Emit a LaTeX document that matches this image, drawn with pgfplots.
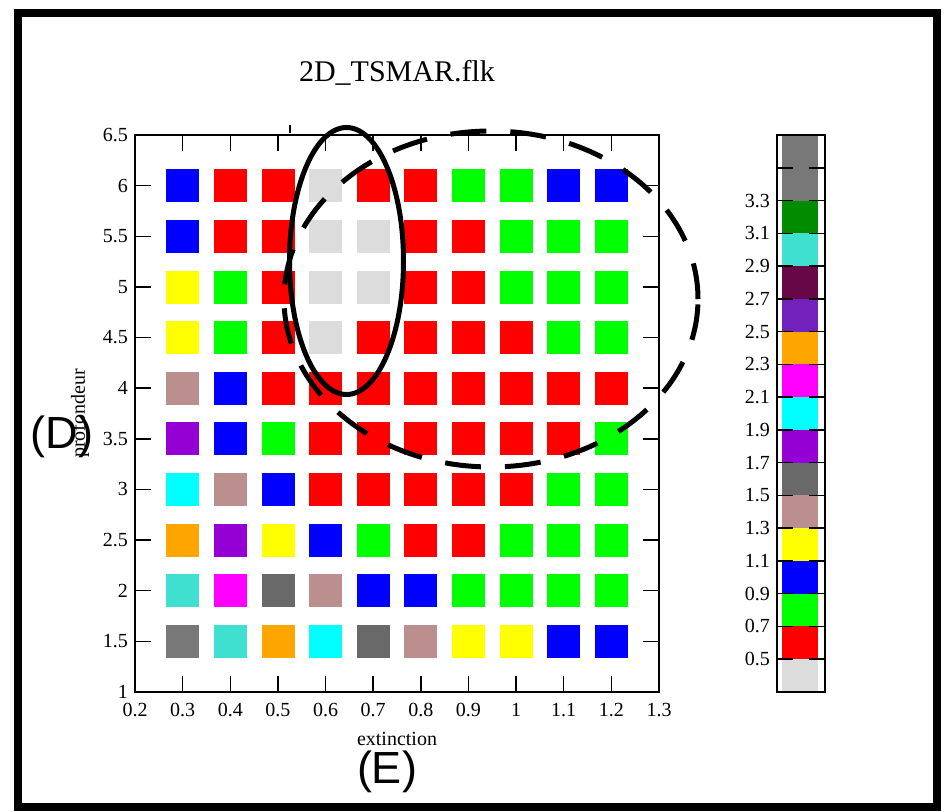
\documentclass[border=0pt]{standalone}
\usepackage{fontspec}
\setmainfont{Liberation Serif}
\newfontfamily\labelsans{Liberation Sans}
\usepackage{pgfplots}
\pgfplotsset{compat=1.18}
\usepackage{pgfplotstable}

% Grace-style palette
\definecolor{lgrey}{RGB}{220,220,220}
\definecolor{cred}{RGB}{255,0,0}
\definecolor{cgreen}{RGB}{0,255,0}
\definecolor{cblue}{RGB}{0,0,255}
\definecolor{cyellow}{RGB}{255,255,0}
\definecolor{cbrown}{RGB}{188,143,143}
\definecolor{dgrey}{RGB}{105,105,105}
\definecolor{cviolet}{RGB}{148,0,211}
\definecolor{ccyan}{RGB}{0,255,255}
\definecolor{cmagenta}{RGB}{255,0,255}
\definecolor{corange}{RGB}{255,165,0}
\definecolor{cindigo}{RGB}{114,33,188}
\definecolor{cmaroon}{RGB}{103,7,72}
\definecolor{cturq}{RGB}{64,224,208}
\definecolor{cgreenfour}{RGB}{0,139,0}
\definecolor{cgray}{RGB}{120,120,120}

% extinction, profondeur, class of the cell
\pgfplotstableread{
x   y   c
0.3 6   b
0.4 6   r
0.5 6   r
0.6 6   lg
0.7 6   r
0.8 6   r
0.9 6   g
1.0 6   g
1.1 6   b
1.2 6   b
0.3 5.5 b
0.4 5.5 r
0.5 5.5 r
0.6 5.5 lg
0.7 5.5 lg
0.8 5.5 r
0.9 5.5 r
1.0 5.5 g
1.1 5.5 g
1.2 5.5 g
0.3 5   y
0.4 5   g
0.5 5   r
0.6 5   lg
0.7 5   lg
0.8 5   r
0.9 5   r
1.0 5   g
1.1 5   g
1.2 5   g
0.3 4.5 y
0.4 4.5 g
0.5 4.5 r
0.6 4.5 lg
0.7 4.5 r
0.8 4.5 r
0.9 4.5 r
1.0 4.5 r
1.1 4.5 g
1.2 4.5 g
0.3 4   br
0.4 4   b
0.5 4   r
0.6 4   r
0.7 4   r
0.8 4   r
0.9 4   r
1.0 4   r
1.1 4   r
1.2 4   r
0.3 3.5 vi
0.4 3.5 b
0.5 3.5 g
0.6 3.5 r
0.7 3.5 r
0.8 3.5 r
0.9 3.5 r
1.0 3.5 r
1.1 3.5 r
1.2 3.5 g
0.3 3   cy
0.4 3   br
0.5 3   b
0.6 3   r
0.7 3   r
0.8 3   r
0.9 3   r
1.0 3   r
1.1 3   g
1.2 3   g
0.3 2.5 or
0.4 2.5 vi
0.5 2.5 y
0.6 2.5 b
0.7 2.5 g
0.8 2.5 r
0.9 2.5 r
1.0 2.5 g
1.1 2.5 g
1.2 2.5 g
0.3 2   tq
0.4 2   ma
0.5 2   dg
0.6 2   br
0.7 2   b
0.8 2   b
0.9 2   g
1.0 2   g
1.1 2   g
1.2 2   g
0.3 1.5 gr
0.4 1.5 tq
0.5 1.5 or
0.6 1.5 cy
0.7 1.5 dg
0.8 1.5 br
0.9 1.5 y
1.0 1.5 y
1.1 1.5 b
1.2 1.5 b
}\gridtable

\begin{document}
\begin{tikzpicture}
\useasboundingbox (0,0) rectangle (472pt,405.5pt);
\draw[line width=4pt] (9pt,399pt) rectangle (468.5pt,2pt);

\begin{axis}[
  at={(67.5pt,59.5pt)}, anchor=south west,
  scale only axis, width=262pt, height=278.5pt,
  xmin=0.2, xmax=1.3, ymin=1, ymax=6.5,
  xtick={0.2,0.3,0.4,0.5,0.6,0.7,0.8,0.9,1,1.1,1.2,1.3},
  ytick={1,1.5,2,2.5,3,3.5,4,4.5,5,5.5,6,6.5},
  tick align=inside, major tick length=8pt,
  axis line style={line width=0.9pt},
  tick style={line width=0.75pt, black},
  /pgf/number format/assume math mode=true,
  tick label style={font=\fontsize{10}{12}\selectfont},
  xticklabel style={yshift=-2pt},
  label style={font=\fontsize{10}{12}\selectfont},
  xlabel={extinction}, ylabel={profondeur},
  xlabel style={yshift=-1pt},
  scatter/classes={
    lg={mark=square*, fill=lgrey, draw=lgrey},
    r={mark=square*, fill=cred, draw=cred},
    g={mark=square*, fill=cgreen, draw=cgreen},
    b={mark=square*, fill=cblue, draw=cblue},
    y={mark=square*, fill=cyellow, draw=cyellow},
    br={mark=square*, fill=cbrown, draw=cbrown},
    dg={mark=square*, fill=dgrey, draw=dgrey},
    vi={mark=square*, fill=cviolet, draw=cviolet},
    cy={mark=square*, fill=ccyan, draw=ccyan},
    ma={mark=square*, fill=cmagenta, draw=cmagenta},
    or={mark=square*, fill=corange, draw=corange},
    tq={mark=square*, fill=cturq, draw=cturq},
    gr={mark=square*, fill=cgray, draw=cgray}
  },
]
\addplot[scatter, only marks, mark=square*, mark size=8pt,
  scatter src=explicit symbolic] table[x=x, y=y, meta=c] {\gridtable};
\end{axis}

% colour scale
\begin{axis}[
  at={(388.5pt,59.5pt)}, anchor=south west,
  scale only axis, width=24pt, height=278.5pt,
  xmin=0, xmax=1, ymin=0.3, ymax=3.7,
  xtick=\empty,
  ytick={0.5,0.7,0.9,1.1,1.3,1.5,1.7,1.9,2.1,2.3,2.5,2.7,2.9,3.1,3.3,3.5},
  yticklabels={0.5,0.7,0.9,1.1,1.3,1.5,1.7,1.9,2.1,2.3,2.5,2.7,2.9,3.1,3.3,{}},
  ytick pos=both, yticklabel pos=left,
  tick align=inside, major tick length=8pt,
  axis on top,
  axis line style={line width=0.9pt},
  tick style={line width=0.75pt, black},
  tick label style={font=\fontsize{10}{12}\selectfont},
]
\addplot[fill=lgrey, draw=none] coordinates {(0.1,0.3) (0.85,0.3) (0.85,0.5) (0.1,0.5)} -- cycle;
\addplot[fill=cred, draw=none] coordinates {(0.1,0.5) (0.85,0.5) (0.85,0.7) (0.1,0.7)} -- cycle;
\addplot[fill=cgreen, draw=none] coordinates {(0.1,0.7) (0.85,0.7) (0.85,0.9) (0.1,0.9)} -- cycle;
\addplot[fill=cblue, draw=none] coordinates {(0.1,0.9) (0.85,0.9) (0.85,1.1) (0.1,1.1)} -- cycle;
\addplot[fill=cyellow, draw=none] coordinates {(0.1,1.1) (0.85,1.1) (0.85,1.3) (0.1,1.3)} -- cycle;
\addplot[fill=cbrown, draw=none] coordinates {(0.1,1.3) (0.85,1.3) (0.85,1.5) (0.1,1.5)} -- cycle;
\addplot[fill=dgrey, draw=none] coordinates {(0.1,1.5) (0.85,1.5) (0.85,1.7) (0.1,1.7)} -- cycle;
\addplot[fill=cviolet, draw=none] coordinates {(0.1,1.7) (0.85,1.7) (0.85,1.9) (0.1,1.9)} -- cycle;
\addplot[fill=ccyan, draw=none] coordinates {(0.1,1.9) (0.85,1.9) (0.85,2.1) (0.1,2.1)} -- cycle;
\addplot[fill=cmagenta, draw=none] coordinates {(0.1,2.1) (0.85,2.1) (0.85,2.3) (0.1,2.3)} -- cycle;
\addplot[fill=corange, draw=none] coordinates {(0.1,2.3) (0.85,2.3) (0.85,2.5) (0.1,2.5)} -- cycle;
\addplot[fill=cindigo, draw=none] coordinates {(0.1,2.5) (0.85,2.5) (0.85,2.7) (0.1,2.7)} -- cycle;
\addplot[fill=cmaroon, draw=none] coordinates {(0.1,2.7) (0.85,2.7) (0.85,2.9) (0.1,2.9)} -- cycle;
\addplot[fill=cturq, draw=none] coordinates {(0.1,2.9) (0.85,2.9) (0.85,3.1) (0.1,3.1)} -- cycle;
\addplot[fill=cgreenfour, draw=none] coordinates {(0.1,3.1) (0.85,3.1) (0.85,3.3) (0.1,3.3)} -- cycle;
\addplot[fill=cgray, draw=none] coordinates {(0.1,3.3) (0.85,3.3) (0.85,3.7) (0.1,3.7)} -- cycle;
\end{axis}

% title and panel marks
\node[anchor=base, font=\fontsize{15}{18}\selectfont] at (198.5pt,364.5pt) {2D\_TSMAR.flk};
\node[anchor=base, font=\fontsize{22.5}{27}\labelsans] at (31pt,181.5pt) {(D)};
\node[anchor=base, font=\fontsize{22.5}{27}\labelsans] at (193.5pt,14pt) {(E)};

% highlighted regions
\draw[line width=2.5pt] (173.25pt,275pt) ellipse [x radius=28.5pt, y radius=66.75pt];
\draw[line width=2.5pt, dash pattern=on 18pt off 12pt] (245.5pt,256pt) ellipse [x radius=103.5pt, y radius=84pt];
\draw[line width=0.6pt] (145pt,343pt) -- (145pt,339pt);
\end{tikzpicture}
\end{document}
